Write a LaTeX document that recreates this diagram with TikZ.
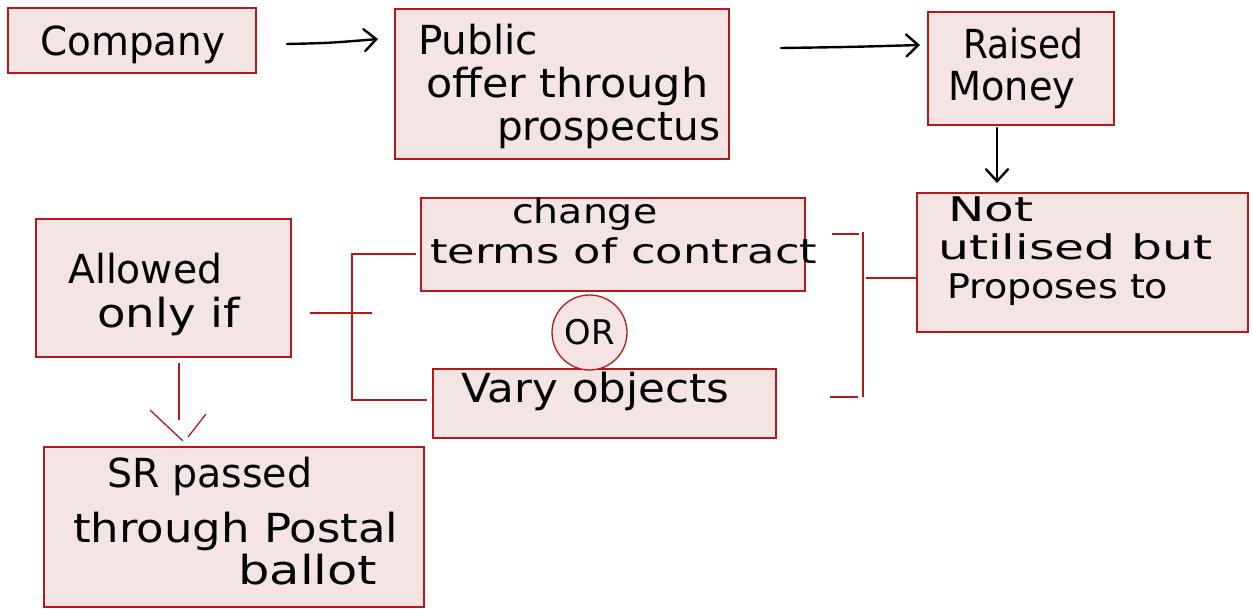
\documentclass[tikz,border=0pt]{standalone}
\usepackage{fontspec}
\usepackage{graphicx}
\newfontfamily\handfont{DejaVu Sans}
\usetikzlibrary{arrows.meta}
\definecolor{boxfill}{RGB}{245,228,228}
\definecolor{boxline}{RGB}{180,25,25}
\newcommand\hw[2]{\resizebox{#1pt}{\height}{\handfont\fontsize{40}{42}\selectfont #2}}
\newcommand\hws[2]{\resizebox{#1pt}{\height}{\handfont\fontsize{34}{36}\selectfont #2}}
\begin{document}
\begin{tikzpicture}[x=1pt,y=-1pt,
  box/.style={draw=boxline, fill=boxfill, line width=1.3pt, inner sep=0pt, rectangle},
  orcircle/.style={draw=boxline, fill=boxfill, line width=1.3pt, inner sep=0pt, circle, minimum size=75pt},
  redln/.style={draw=boxline, line width=1.3pt},
  blk/.style={draw=black, line width=2.4pt, line cap=round, -{Straight Barb[length=12pt,width=22pt,line cap=round]}},
  txt/.style={anchor=base west, inner sep=0pt, text=black}]
\useasboundingbox (0,0) rectangle (1252,608);

% boxes
\node[box, minimum width=248pt, minimum height=65pt] (company) at (132,40.5) {};
\node[box, minimum width=334pt, minimum height=150pt] (public) at (562,84) {};
\node[box, minimum width=186pt, minimum height=113pt] (raised) at (1021,68.5) {};
\node[box, minimum width=331pt, minimum height=139pt] (notbox) at (1082.5,262.5) {};
\node[box, minimum width=384pt, minimum height=93pt] (change) at (613,244.5) {};
\node[box, minimum width=343pt, minimum height=69pt] (vary) at (604.5,403.5) {};
\node[box, minimum width=255pt, minimum height=138pt] (allowed) at (163.5,288) {};
\node[box, minimum width=380pt, minimum height=160pt] (sr) at (234,527) {};
\node[orcircle] (orc) at (589.5,332.5) {};

% black arrows
\coordinate (a1s) at (287,44);
\coordinate (a1e) at (378,39);
\coordinate (a2s) at (781,48);
\coordinate (a2e) at (920,45);
\coordinate (a3s) at (997,128);
\coordinate (a3e) at (997,183);
\draw[blk] (a1s) .. controls (330,43) .. (a1e);
\draw[blk] (a2s) .. controls (850,47) .. (a2e);
\draw[blk] (a3s) -- (a3e);

% red bracket lines
\coordinate (al1) at (310,313);
\coordinate (al2) at (372,313);
\draw[redln] (al1) -- (al2);
\coordinate (lb1) at (416,254);
\coordinate (lb2) at (352,254);
\coordinate (lb3) at (352,400);
\coordinate (lb4) at (427,400);
\draw[redln] (lb1) -- (lb2) -- (lb3) -- (lb4);
\coordinate (rt1) at (832,234);
\coordinate (rt2) at (859,234);
\draw[redln] (rt1) -- (rt2);
\coordinate (rv1) at (863,232);
\coordinate (rv2) at (863,397);
\draw[redln] (rv1) -- (rv2);
\coordinate (rb1) at (830,397);
\coordinate (rb2) at (858,397);
\draw[redln] (rb1) -- (rb2);
\coordinate (rm1) at (866,278);
\draw[redln] (rm1) -- (rm1 -| notbox.west);
% allowed -> sr
\coordinate (ad1) at (179,363);
\coordinate (ad2) at (179,420);
\draw[redln] (ad1) -- (ad2);
\coordinate (v1) at (150,410);
\coordinate (v2) at (183,441);
\coordinate (v3) at (206,414);
\coordinate (v4) at (188,437);
\draw[redln] (v1) -- (v2);
\draw[redln] (v3) -- (v4);

% texts
\node[txt] (tcompany) at (40,55) {\hw{185}{Company}};
\node[txt] (tpub1) at (418,54) {\hw{120}{Public}};
\node[txt] (tpub2) at (426,97) {\hw{282}{offer through}};
\node[txt] (tpub3) at (497,140) {\hw{223}{prospectus}};
\node[txt] (trai1) at (963,58) {\hw{120}{Raised}};
\node[txt] (trai2) at (948,100) {\hw{127}{Money}};
\node[txt] (tnot1) at (948,221) {\hws{85}{Not}};
\node[txt] (tnot2) at (938,259) {\hws{274}{utilised but}};
\node[txt] (tnot3) at (947,298) {\hws{221}{Proposes to}};
\node[txt] (tch1) at (512,223) {\hws{145}{change}};
\node[txt] (tch2) at (430,263) {\hws{387}{terms of contract}};
\node[txt] (tvary) at (461,402) {\hw{268}{Vary objects}};
\node[anchor=center, inner sep=0pt] (tor) at (orc.center) {\resizebox{50pt}{\height}{\handfont\fontsize{34}{36}\selectfont OR}};
\node[txt] (tall1) at (68,283) {\hw{154}{Allowed}};
\node[txt] (tall2) at (97,327) {\hw{143}{only if}};
\node[txt] (tsr1) at (107,487) {\hw{205}{SR passed}};
\node[txt] (tsr2) at (73,542) {\hw{325}{through Postal}};
\node[txt] (tsr3) at (238,584) {\hw{139}{ballot}};
\end{tikzpicture}
\end{document}
